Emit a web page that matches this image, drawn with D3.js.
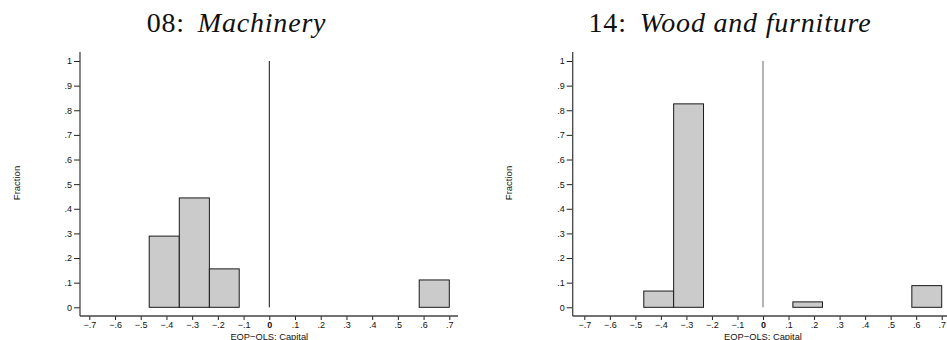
<!DOCTYPE html>
<html>

<head>
  <meta charset="UTF-8" />
  <title>EOP-OLS Capital histograms</title>
  <style>
    body {
      margin: 0;
      background: white;
    }

    svg text {
      font-family: "Liberation Sans", Arial, sans-serif;
    }

    .title {
      font-family: "Liberation Serif", "Times New Roman", serif !important;
      font-size: 28px;
      letter-spacing: 0.8px;
    }
  </style>
  <script src="https://d3js.org/d3.v7.min.js"></script>
</head>

<body>
  <script>
    /* Data */
    let binEdges = [-0.467, -0.35, -0.233, -0.117, 0, 0.117, 0.233, 0.35, 0.467, 0.583, 0.7],
      machineryFractions = [0.289, 0.444, 0.156, 0, 0, 0, 0, 0, 0, 0.111],
      woodFractions = [0.066, 0.826, 0, 0, 0, 0.022, 0, 0, 0, 0.088],
      xTicks = [-0.7, -0.6, -0.5, -0.4, -0.3, -0.2, -0.1, 0, 0.1, 0.2, 0.3, 0.4, 0.5, 0.6, 0.7],
      yTicks = [0, 0.1, 0.2, 0.3, 0.4, 0.5, 0.6, 0.7, 0.8, 0.9, 1],
      titleNums = ["08:", "14:"],
      titleNames = ["Machinery", "Wood and furniture"],
      xLabel = "EOP\u2212OLS: Capital",
      yLabel = "Fraction";

    let W = 947, H = 340;

    let panels = [
      { values: machineryFractions, x0: 89.3, x1: 449.3, axisX: 80, axisEnd: 458, titleX: 236.5, labelX: 17 },
      { values: woodFractions, x0: 584.3, x1: 941.7, axisX: 572.7, axisEnd: 947, titleX: 730, labelX: 509 }
    ];

    let svg = d3.select("body")
      .append("svg")
      .attr("width", W)
      .attr("height", H);

    // stata style number labels: ".5", "-.3", "0", "1"
    let stataFmt = d => {
      if (d === 0) return "0";
      if (d === 1) return "1";
      return d3.format(".1f")(d).replace("0.", ".").replace("-", "\u2212");
    };

    let yScale = d3.scaleLinear().domain([0, 1]).range([307.3, 61]);
    let axisY = 316;

    panels.forEach((p, i) => {
      let g = svg.append("g");
      let xScale = d3.scaleLinear().domain([-0.7, 0.7]).range([p.x0, p.x1]);

      /* Title */
      let t = g.append("text")
        .attr("class", "title")
        .attr("x", p.titleX)
        .attr("y", 32)
        .attr("text-anchor", "middle")
        .attr("fill", "#111");
      t.append("tspan").text(titleNums[i]);
      t.append("tspan").attr("dx", 13).style("font-style", "italic").text(titleNames[i]);

      /* Bars */
      let bins = p.values.map((v, k) => ({ v: v, lo: binEdges[k], hi: binEdges[k + 1] }))
        .filter(b => b.v > 0);
      g.selectAll(".bar")
        .data(bins)
        .enter()
        .append("rect")
        .attr("class", "bar")
        .attr("x", d => xScale(d.lo))
        .attr("width", d => xScale(d.hi) - xScale(d.lo))
        .attr("y", d => yScale(d.v))
        .attr("height", d => yScale(0) - yScale(d.v))
        .attr("fill", "#cbcbcb")
        .attr("stroke", "#1a1a1a")
        .attr("stroke-width", 1);

      /* Reference line at zero */
      g.append("line")
        .attr("x1", xScale(0)).attr("x2", xScale(0))
        .attr("y1", yScale(1)).attr("y2", yScale(0))
        .attr("stroke", i === 0 ? "#111" : "#666")
        .attr("stroke-width", 1);

      /* Y axis */
      let yAxis = g.append("g")
        .attr("transform", `translate(${p.axisX},0)`)
        .call(d3.axisLeft(yScale).tickValues(yTicks).tickFormat(stataFmt).tickSize(6).tickPadding(2));
      yAxis.select(".domain").remove();
      yAxis.selectAll(".tick line").attr("stroke", "#222");
      yAxis.selectAll(".tick text").attr("font-size", 9).attr("fill", "#111")
        .attr("font-family", "Liberation Sans, Arial, sans-serif");

      /* X axis */
      let xAxis = g.append("g")
        .attr("transform", `translate(0,${axisY})`)
        .call(d3.axisBottom(xScale).tickValues(xTicks).tickFormat(stataFmt).tickSize(4).tickPadding(2));
      xAxis.select(".domain").remove();
      xAxis.selectAll(".tick line").attr("stroke", "#222");
      xAxis.selectAll(".tick text").attr("font-size", 9).attr("fill", "#111")
        .attr("font-family", "Liberation Sans, Arial, sans-serif")
        .attr("font-weight", d => d === 0 ? "bold" : "normal");

      /* axis lines */
      g.append("line")
        .attr("x1", p.axisX).attr("x2", p.axisX)
        .attr("y1", 52).attr("y2", axisY)
        .attr("stroke", "#444").attr("stroke-width", 1.3);
      g.append("line")
        .attr("x1", p.axisX).attr("x2", p.axisEnd)
        .attr("y1", axisY).attr("y2", axisY)
        .attr("stroke", "#444").attr("stroke-width", 1.3);

      /* Axis titles */
      g.append("text")
        .attr("x", (p.x0 + p.x1) / 2)
        .attr("y", 339.5)
        .attr("text-anchor", "middle")
        .attr("font-size", 9.3)
        .attr("fill", "#111")
        .text(xLabel);

      g.append("text")
        .attr("transform", `translate(${p.labelX + 3},183) rotate(-90)`)
        .attr("text-anchor", "middle")
        .attr("font-size", 9.5)
        .attr("fill", "#111")
        .text(yLabel);
    });
  </script>
</body>

</html>
